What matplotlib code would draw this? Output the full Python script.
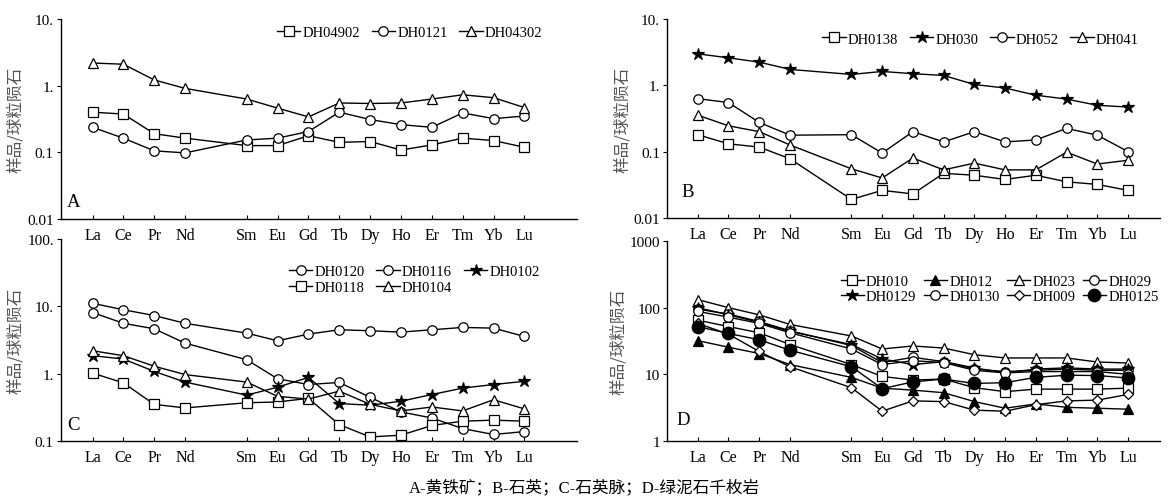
import matplotlib
matplotlib.use("Agg")
import matplotlib.pyplot as plt

plt.rcParams['font.family'] = ['Liberation Serif', 'Noto Sans CJK SC', 'DejaVu Sans']

REE = ["La", "Ce", "Pr", "Nd", "Sm", "Eu", "Gd", "Tb", "Dy", "Ho", "Er", "Tm", "Yb", "Lu"]

# panel A - pyrite
A_names = ["DH04902", "DH0121", "DH04302"]
A_DH04902 = [0.40, 0.375, 0.19, 0.163, 0.126, 0.126, 0.177, 0.141, 0.145, 0.108, 0.129, 0.163, 0.15, 0.119]
A_DH0121 = [0.237, 0.163, 0.105, 0.098, 0.153, 0.163, 0.205, 0.40, 0.31, 0.26, 0.237, 0.39, 0.32, 0.35]
A_DH04302 = [2.19, 2.1, 1.22, 0.91, 0.63, 0.46, 0.34, 0.55, 0.54, 0.55, 0.63, 0.73, 0.66, 0.47]

# panel B - quartz
B_names = ["DH0138", "DH030", "DH052", "DH041"]
B_DH0138 = [0.18, 0.131, 0.117, 0.078, 0.019, 0.026, 0.023, 0.047, 0.044, 0.038, 0.044, 0.035, 0.032, 0.026]
B_DH030 = [2.99, 2.6, 2.24, 1.74, 1.46, 1.62, 1.50, 1.41, 1.03, 0.91, 0.71, 0.62, 0.50, 0.47]
B_DH052 = [0.63, 0.55, 0.276, 0.177, 0.18, 0.095, 0.20, 0.14, 0.20, 0.14, 0.15, 0.224, 0.177, 0.10]
B_DH041 = [0.355, 0.245, 0.20, 0.126, 0.055, 0.04, 0.08, 0.053, 0.067, 0.053, 0.053, 0.098, 0.065, 0.074]

# panel C - quartz vein
C_DH0120 = [11.1, 8.9, 7.3, 5.6, 4.0, 3.08, 3.87, 4.49, 4.34, 4.14, 4.49, 4.86, 4.75, 3.57]
C_DH0116 = [8.1, 5.6, 4.64, 2.84, 1.61, 0.84, 0.69, 0.74, 0.446, 0.27, 0.22, 0.153, 0.125, 0.138]
C_DH0102 = [1.85, 1.65, 1.08, 0.75, 0.48, 0.63, 0.88, 0.36, 0.34, 0.39, 0.49, 0.61, 0.69, 0.77]
C_DH0118 = [1.02, 0.73, 0.35, 0.31, 0.37, 0.38, 0.43, 0.175, 0.115, 0.122, 0.17, 0.197, 0.204, 0.197]
C_DH0104 = [2.19, 1.85, 1.29, 0.97, 0.75, 0.46, 0.42, 0.55, 0.35, 0.28, 0.32, 0.28, 0.41, 0.30]

# panel D - chlorite phyllite
D_DH010 = [65, 52, 42, 28, 14, 9.3, 8.2, 8.5, 6.3, 5.5, 6.0, 6.0, 6.0, 6.2]
D_DH012 = [32, 25.5, 20.5, 14, 9.0, 6.2, 5.8, 5.3, 3.9, 3.1, 3.6, 3.2, 3.1, 3.0]
D_DH023 = [132, 100, 78, 56, 37.6, 24, 26.6, 24.8, 19.7, 17.6, 17.6, 17.6, 15.3, 14.8]
D_DH029 = [95, 80, 62, 45, 27, 15, 18, 15.5, 12, 11, 11.5, 12, 11.5, 11.5]
D_DH0129 = [100, 78, 60, 44, 28, 17, 14, 15.5, 12.5, 10.5, 12, 12.5, 12, 12]
D_DH0130 = [88, 72, 58, 42, 24, 14, 16, 15, 11.5, 10.5, 11, 11, 11, 10]
D_DH009 = [58, 40, 22, 13, 6.3, 2.8, 4.0, 3.9, 2.9, 2.8, 3.5, 4.0, 4.1, 5.0]
D_DH0125 = [52, 41, 33, 23, 13, 6.1, 7.7, 8.5, 7.3, 7.5, 9.0, 9.7, 9.6, 8.8]

# Pm is left out, so keep a gap after Nd
xpos = [i + 1 if i < 4 else i + 2 for i in range(len(REE))]

fig = plt.figure(figsize=(11.69, 5.02), dpi=100)
axA = fig.add_axes([0.052, 0.562, 0.4414, 0.398])
axB = fig.add_axes([0.5706, 0.564, 0.4217, 0.396])
axC = fig.add_axes([0.052, 0.1195, 0.4414, 0.4024])
axD = fig.add_axes([0.5706, 0.1195, 0.4217, 0.3985])
# lower panels must not hide the tick labels of the upper ones
for ax in [axC, axD]:
    ax.patch.set_alpha(0)
for ax in [axA, axB]:
    ax.set_zorder(2)


def _style(ax, ylim, ticks, labels, xlim, letter, lx, ly):
    ax.set_yscale('log')
    ax.set_ylim(*ylim)
    ax.set_xlim(*xlim)
    ax.set_yticks(ticks)
    ax.set_yticklabels(labels, fontsize=11)
    ax.minorticks_off()
    ax.set_xticks(xpos)
    ax.set_xticklabels(REE, fontsize=11.5)
    ax.tick_params(axis='x', direction='in', length=3, width=0.8, pad=6)
    ax.tick_params(axis='y', direction='out', length=3, width=0.8, pad=2)
    for s in ['top', 'right']:
        ax.spines[s].set_visible(False)
    for s in ['left', 'bottom']:
        ax.spines[s].set_linewidth(1.0)
    ax.set_ylabel("样品/球粒陨石", family=['Noto Sans CJK SC'], fontsize=12, color='#555555', labelpad=2)
    ax.text(lx, ly, letter, transform=ax.transAxes, fontsize=13.5, ha='left', va='center')


def _line(ax, vals, marker, name, ms=6.8, filled=False):
    ax.plot(xpos, vals, color='black', lw=1.0, marker=marker, ms=ms,
            mfc='black' if filled else 'white', mec='black', mew=0.9, label=name)


def _legend(ax, ncol, anchor, order=None, colsp=0.8):
    h, l = ax.get_legend_handles_labels()
    if order is not None:
        h = [h[i] for i in order]
        l = [l[i] for i in order]
    ax.legend(h, l, ncol=ncol, loc='center right', bbox_to_anchor=anchor, frameon=False,
              fontsize=10.5, handlelength=1.6, handletextpad=0.15, columnspacing=colsp,
              labelspacing=0.15, borderpad=0.1)


# A
_line(axA, A_DH04902, 's', A_names[0])
_line(axA, A_DH0121, 'o', A_names[1])
_line(axA, A_DH04302, '^', A_names[2])
_style(axA, (0.01, 10), [0.01, 0.1, 1, 10], ["0.01", "0.1", "1.", "10."], (-0.03, 16.7), "A", 0.012, 0.085)
_legend(axA, 3, (0.95, 0.935))

# B
_line(axB, B_DH0138, 's', B_names[0])
_line(axB, B_DH030, '*', B_names[1], ms=9, filled=True)
_line(axB, B_DH052, 'o', B_names[2])
_line(axB, B_DH041, '^', B_names[3])
_style(axB, (0.01, 10), [0.01, 0.1, 1, 10], ["0.01", "0.1", "1.", "10."], (0.0, 16.04), "B", 0.03, 0.135)
_legend(axB, 4, (0.975, 0.90))

# C
_line(axC, C_DH0120, 'o', "DH0120")
_line(axC, C_DH0116, 'o', "DH0116")
_line(axC, C_DH0102, '*', "DH0102", ms=9, filled=True)
_line(axC, C_DH0118, 's', "DH0118")
_line(axC, C_DH0104, '^', "DH0104")
_style(axC, (0.1, 100), [0.1, 1, 10, 100], ["0.1", "1.", "10.", "100."], (-0.03, 16.7), "C", 0.012, 0.084)
# matplotlib fills legend columns first
_legend(axC, 3, (0.945, 0.80), order=[0, 3, 1, 4, 2])

# D
_line(axD, D_DH010, 's', "DH010")
_line(axD, D_DH012, '^', "DH012", filled=True)
_line(axD, D_DH023, '^', "DH023")
_line(axD, D_DH029, 'o', "DH029")
_line(axD, D_DH0129, '*', "DH0129", ms=9, filled=True)
_line(axD, D_DH0130, 'o', "DH0130")
_line(axD, D_DH009, 'D', "DH009", ms=5.5)
_line(axD, D_DH0125, 'o', "DH0125", ms=9, filled=True)
_style(axD, (1, 1000), [1, 10, 100, 1000], ["1", "10", "100", "1000"], (0.0, 16.04), "D", 0.02, 0.11)
_legend(axD, 4, (1.015, 0.76), order=[0, 4, 1, 5, 2, 6, 3, 7], colsp=0.5)

fig.text(0.5, 0.028, "A-黄铁矿；B-石英；C-石英脉；D-绿泥石千枚岩", ha='center', va='center',
         fontsize=12, family=['Liberation Serif', 'Noto Sans CJK SC'])

fig.savefig("out.png", dpi=100)
